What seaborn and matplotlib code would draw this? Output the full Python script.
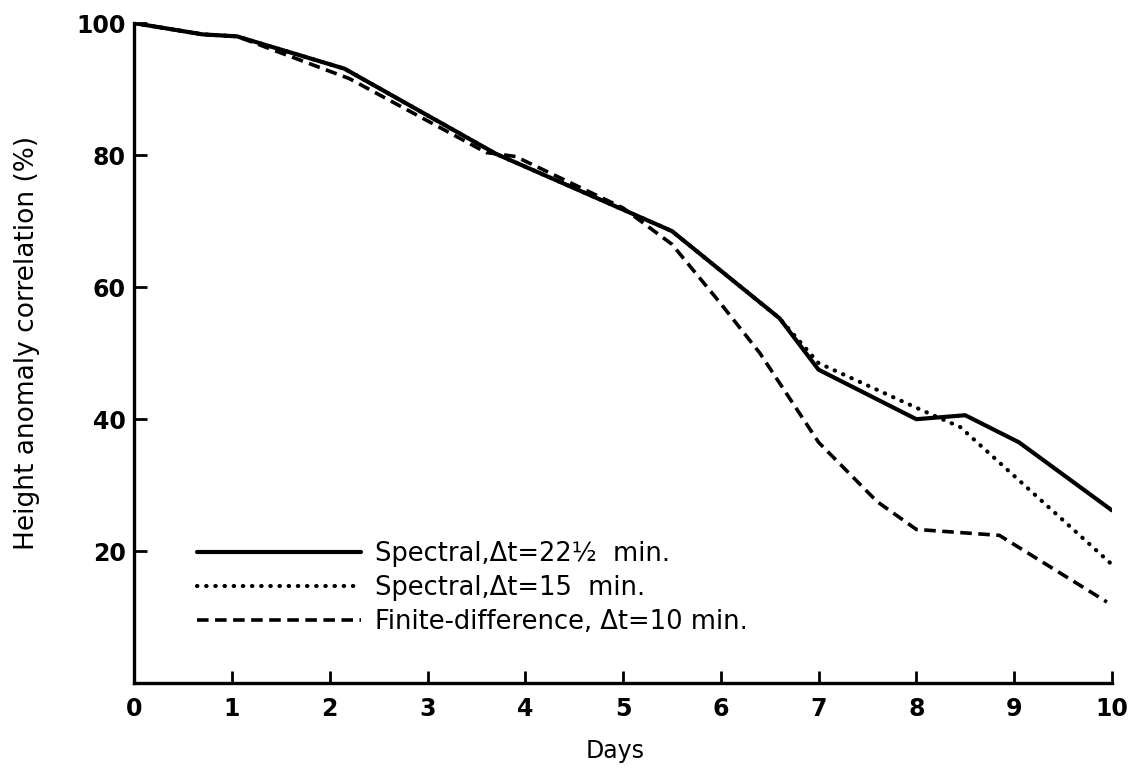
"""Height anomaly correlation vs forecast day for three model configurations."""

import matplotlib

matplotlib.use("Agg")
import matplotlib.pyplot as plt
import seaborn as sns

# ---------------------------------------------------------------- data
spectral_22_days = [0, 0.7, 1.05, 2.15, 3.7, 5.5, 6.6, 7.0, 8.0, 8.5, 9.05, 10.0]
spectral_22_corr = [100, 98.3, 98.0, 93.1, 80.2, 68.5, 55.3, 47.5, 40.0, 40.6, 36.5, 26.2]

spectral_15_days = [0, 0.7, 1.05, 2.15, 3.7, 5.5, 6.6, 7.0, 8.05, 8.45, 10.0]
spectral_15_corr = [100, 98.3, 98.0, 93.1, 80.2, 68.5, 55.3, 48.5, 41.4, 38.8, 18.0]

finite_diff_days = [0, 0.7, 1.05, 2.2, 3.6, 3.9, 5.0, 5.5, 6.0, 6.4, 7.0, 7.6, 8.0, 8.85, 9.95]
finite_diff_corr = [100, 98.3, 98.0, 91.6, 80.4, 79.8, 72.0, 66.5, 57.5, 50.0, 36.5, 27.5, 23.3, 22.4, 12.3]

labels = ["Spectral,\u0394t=22\u00bd  min.",
          "Spectral,\u0394t=15  min.",
          "Finite-difference, \u0394t=10 min."]
x_ticks = list(range(0, 11))
y_ticks = [20, 40, 60, 80, 100]


def main() -> None:
    sns.set_theme(style="white", rc={"text.color": "black",
                                     "axes.labelcolor": "black",
                                     "xtick.color": "black",
                                     "ytick.color": "black"})
    plt.rcParams["font.family"] = ["DejaVu Sans"]

    fig = plt.figure(figsize=(11.38, 7.72), dpi=100)
    ax = fig.add_axes([0.118, 0.115, 0.859, 0.855])

    sns.lineplot(x=spectral_22_days, y=spectral_22_corr, ax=ax, color="black",
                 lw=3.0, linestyle="-", label=labels[0], estimator=None)
    sns.lineplot(x=spectral_15_days, y=spectral_15_corr, ax=ax, color="black",
                 lw=3.0, linestyle=(0, (0.1, 2.1)), dash_capstyle="round",
                 label=labels[1], estimator=None)
    sns.lineplot(x=finite_diff_days, y=finite_diff_corr, ax=ax, color="black",
                 lw=2.6, linestyle=(0, (3.2, 1.8)), label=labels[2], estimator=None)

    ax.set_xlim(0, 10)
    ax.set_ylim(0, 100)
    ax.set_xticks(x_ticks)
    ax.set_yticks(y_ticks)
    ax.set_xticklabels([str(t) for t in x_ticks], fontsize=17, fontweight="bold")
    ax.set_yticklabels([str(t) for t in y_ticks], fontsize=17, fontweight="bold")
    ax.tick_params(axis="both", direction="in", length=9, width=2,
                   bottom=True, left=True)
    ax.tick_params(axis="x", pad=10)
    ax.tick_params(axis="y", pad=6)

    sns.despine(ax=ax)
    for side in ("left", "bottom"):
        ax.spines[side].set_linewidth(2.4)
        ax.spines[side].set_color("black")

    ax.set_xlabel("Days", fontsize=17)
    ax.set_ylabel("Height anomaly correlation (%)", fontsize=19)
    ax.xaxis.set_label_coords(0.492, -0.085)
    ax.yaxis.set_label_coords(-0.096, 0.515)

    # legend sits inside the axes, lower left, no frame
    ax.legend(loc="upper left", bbox_to_anchor=(0.04, 0.25), frameon=False,
              fontsize=18.5, handlelength=6.4, handletextpad=0.55, labelspacing=0.3)

    fig.savefig("out.png", dpi=100, facecolor="white")
    plt.close(fig)


if __name__ == "__main__":
    main()
